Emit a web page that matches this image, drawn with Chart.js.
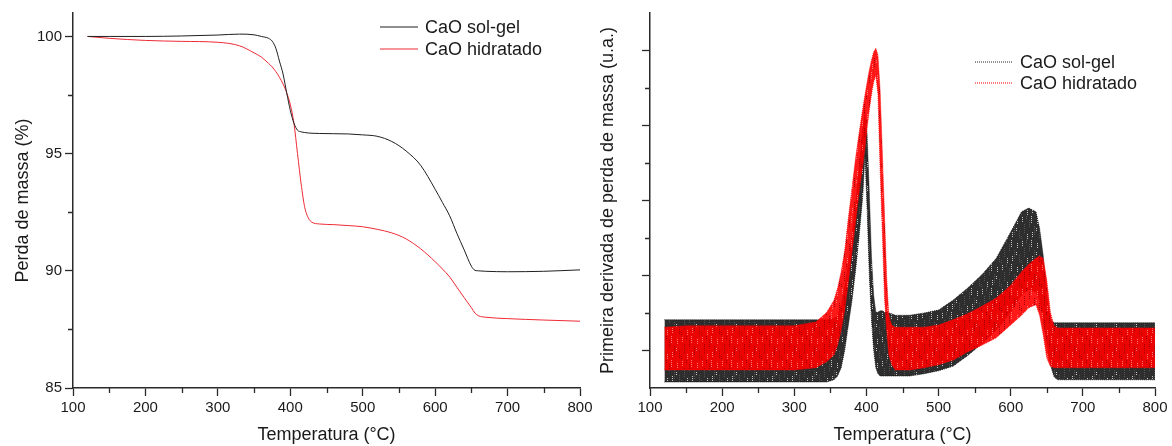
<!DOCTYPE html>
<html>
<head>
<meta charset="utf-8">
<script src="https://cdn.jsdelivr.net/npm/chart.js@4.4.1/dist/chart.umd.min.js"></script>
<style>
  body { margin: 0; background: #fff; }
  #wrap { position: relative; width: 1172px; height: 446px; }
  canvas { position: absolute; top: 0; }
  #tga { left: 0; }
  #dtg { left: 590px; }
</style>
</head>
<body>
<div id="wrap">
  <canvas id="tga" width="600" height="446"></canvas>
  <canvas id="dtg" width="582" height="446"></canvas>
</div>
<script>
// ---- data ----
const seriesNames = ['CaO sol-gel', 'CaO hidratado'];
const xTicks = [100, 200, 300, 400, 500, 600, 700, 800];
const xMinor = [150, 250, 350, 450, 550, 650, 750];
const tgaYTicks = [85, 90, 95, 100];
const tgaYMinor = [87.5, 92.5, 97.5];
const dtgYTicks = [5, 15, 25, 35, 45];
const dtgYMinor = [10, 20, 30, 40];

// TGA: mass (%) vs temperature
const tgaTemp = [120, 150, 200, 250, 300, 330, 350, 360, 370, 375, 380, 385, 390, 395, 400, 405, 410, 415, 420, 425, 430, 440, 460, 480, 500, 520, 540, 560, 580, 600, 610, 620, 630, 640, 650, 655, 660, 670, 700, 750, 800];
const tgaSolGel = [100.0, 100.0, 100.0, 100.02, 100.06, 100.1, 100.07, 100.0, 99.92, 99.8, 99.5, 98.95, 98.4, 97.6, 96.85, 96.3, 96.0, 95.93, 95.9, 95.88, 95.87, 95.86, 95.85, 95.84, 95.8, 95.74, 95.52, 95.11, 94.5, 93.48, 92.92, 92.35, 91.6, 90.9, 90.2, 90.02, 90.0, 89.98, 89.96, 89.98, 90.04];
const tgaHidratado = [100.0, 99.92, 99.83, 99.79, 99.75, 99.6, 99.3, 99.12, 98.85, 98.7, 98.5, 98.26, 97.97, 97.6, 97.1, 96.3, 95.0, 93.7, 92.7, 92.25, 92.07, 92.0, 91.97, 91.93, 91.88, 91.77, 91.62, 91.36, 90.94, 90.39, 90.08, 89.74, 89.3, 88.86, 88.43, 88.2, 88.08, 88.02, 87.96, 87.9, 87.85];

// DTG: noisy band, upper and lower edge of each trace (u.a.)
const dtgTemp = [120, 150, 200, 250, 300, 330, 345, 355, 360, 365, 370, 375, 380, 385, 390, 395, 398, 401, 404, 407, 410, 413, 416, 419, 422, 425, 428, 431, 435, 440, 460, 480, 500, 520, 540, 560, 580, 600, 615, 625, 635, 640, 645, 650, 655, 660, 665, 680, 700, 750, 800];
const dtgSolGelHigh = [9.1, 9.1, 9.1, 9.1, 9.1, 9.1, 9.1, 9.3, 9.7, 11.1, 13.7, 16.8, 20.4, 24.7, 29.3, 34.7, 36.9, 33.7, 26.0, 17.5, 12.4, 10.1, 10.1, 10.3, 10.3, 10.1, 10.1, 10.0, 9.9, 9.7, 9.7, 10.0, 10.4, 11.7, 13.3, 15.1, 17.3, 20.8, 23.5, 24.0, 23.5, 21.3, 17.7, 12.4, 9.1, 8.7, 8.7, 8.7, 8.7, 8.7, 8.7];
const dtgSolGelLow = [0.8, 0.8, 0.8, 0.8, 0.8, 0.8, 0.8, 1.1, 1.6, 2.7, 5.1, 8.4, 11.7, 15.7, 20.4, 25.7, 31.1, 23.7, 15.1, 9.1, 5.1, 2.7, 1.9, 1.6, 1.6, 1.6, 1.6, 1.6, 1.6, 1.6, 1.6, 1.9, 2.3, 2.9, 4.3, 5.9, 7.7, 10.1, 12.4, 13.1, 12.8, 11.7, 9.1, 5.7, 3.1, 1.5, 1.1, 1.1, 1.1, 1.1, 1.1];
const dtgHidrHigh = [8.1, 8.3, 8.3, 8.3, 8.3, 8.8, 10.1, 11.7, 13.3, 15.5, 18.4, 22.7, 26.7, 30.7, 34.1, 37.3, 39.1, 40.8, 42.4, 43.7, 44.8, 45.3, 44.4, 39.7, 31.7, 23.3, 14.9, 9.7, 8.4, 8.1, 8.1, 8.1, 8.4, 9.1, 9.9, 10.9, 12.0, 13.7, 15.5, 16.5, 17.3, 17.6, 17.3, 14.4, 10.1, 8.3, 8.0, 8.0, 8.0, 8.0, 8.0];
const dtgHidrLow = [2.4, 2.4, 2.4, 2.4, 2.4, 2.7, 3.5, 4.4, 5.7, 7.7, 10.4, 14.1, 18.1, 22.1, 26.1, 29.7, 32.0, 34.7, 37.1, 39.1, 40.8, 41.7, 39.1, 29.1, 20.8, 12.1, 7.7, 4.4, 3.1, 2.4, 2.4, 2.7, 3.1, 3.7, 4.8, 5.7, 6.7, 8.4, 9.7, 10.7, 11.1, 9.7, 7.1, 4.0, 2.9, 2.7, 2.7, 2.7, 2.7, 2.7, 2.7];

// ---- styling ----
Chart.defaults.font.family = "'Liberation Sans', Arial, sans-serif";
Chart.defaults.color = '#1a1a1a';
const axisColor = '#2a2a2a';
const titleFont = { size: 18 };
const tickFont = { size: 15 };

const pts = (xs, ys) => xs.map((x, i) => ({ x: x, y: ys[i] }));

// vertical dotted streaks, to look like the noisy recorder trace
const streakMarks = [[1, 0, 7], [4, 10, 9], [7, 3, 6], [9, 15, 8], [12, 1, 5], [14, 8, 10], [17, 18, 6], [19, 4, 7], [2, 16, 6], [11, 20, 4], [6, 12, 3], [16, 0, 4]];
function streaks(base, dark, light) {
  const c = document.createElement('canvas');
  c.width = 20; c.height = 24;
  const g = c.getContext('2d');
  g.fillStyle = base; g.fillRect(0, 0, 20, 24);
  streakMarks.forEach(([x, y, h], i) => {
    g.fillStyle = i % 2 ? dark : light;
    for (let k = 0; k < h; k += 2) g.fillRect(x, (y + k) % 24, 1, 1);
  });
  return g.createPattern(c, 'repeat');
}

// short minor ticks on both axes
function minorTicks(xv, yv) {
  return {
    id: 'minorTicks',
    afterDraw(chart) {
      const ctx = chart.ctx, xs = chart.scales.x, ys = chart.scales.y;
      ctx.save();
      ctx.strokeStyle = axisColor;
      ctx.lineWidth = 1.3;
      ctx.beginPath();
      xv.forEach(v => { const p = Math.round(xs.getPixelForValue(v)) + 0.5; ctx.moveTo(p, xs.top); ctx.lineTo(p, xs.top + 5); });
      yv.forEach(v => { const p = Math.round(ys.getPixelForValue(v)) + 0.5; ctx.moveTo(ys.right, p); ctx.lineTo(ys.right - 5, p); });
      ctx.stroke();
      ctx.restore();
    }
  };
}

// legend drawn inside the plot
function innerLegend(x, y, gap, items) {
  return {
    id: 'innerLegend',
    afterDraw(chart) {
      const ctx = chart.ctx;
      ctx.save();
      ctx.font = "18px 'Liberation Sans', Arial, sans-serif";
      ctx.textBaseline = 'middle';
      items.forEach((it, i) => {
        const yy = y + i * gap;
        ctx.strokeStyle = it.color;
        ctx.lineWidth = it.width;
        ctx.setLineDash(it.dash);
        ctx.beginPath(); ctx.moveTo(x, yy); ctx.lineTo(x + 38, yy); ctx.stroke();
        ctx.setLineDash([]);
        ctx.fillStyle = '#1a1a1a';
        ctx.fillText(it.text, x + 45, yy + 1);
      });
      ctx.restore();
    }
  };
}

function xAxis() {
  return {
    type: 'linear', min: 100, max: 800,
    afterBuildTicks: s => { s.ticks = xTicks.map(v => ({ value: v })); },
    afterFit: s => { s.height = 58; s.paddingLeft = 0; s.paddingRight = 0; },
    border: { display: true, color: axisColor, width: 1.5 },
    grid: { drawOnChartArea: false, drawTicks: true, tickLength: 8, tickColor: axisColor, tickWidth: 1.3 },
    ticks: { font: tickFont, padding: 3, maxRotation: 0 },
    title: { display: true, text: 'Temperatura (°C)', font: titleFont, padding: { top: 0, bottom: 0 } }
  };
}

// ---- left: TGA ----
new Chart(document.getElementById('tga'), {
  type: 'line',
  data: {
    datasets: [
      { label: seriesNames[0], data: pts(tgaTemp, tgaSolGel), borderColor: '#1f1f1f', borderWidth: 1, pointRadius: 0, cubicInterpolationMode: 'monotone' },
      { label: seriesNames[1], data: pts(tgaTemp, tgaHidratado), borderColor: '#ee2a35', borderWidth: 1, pointRadius: 0, cubicInterpolationMode: 'monotone' }
    ]
  },
  options: {
    responsive: false,
    animation: false,
    layout: { padding: { top: 13, right: 20, left: 0, bottom: 0 } },
    plugins: { legend: { display: false }, tooltip: { enabled: false } },
    scales: {
      x: xAxis(),
      y: {
        type: 'linear', min: 85, max: 101,
        afterBuildTicks: s => { s.ticks = tgaYTicks.map(v => ({ value: v })); },
        afterFit: s => { s.width = 73; s.paddingTop = 0; s.paddingBottom = 0; },
        border: { display: true, color: axisColor, width: 1.5 },
        grid: { drawOnChartArea: false, drawTicks: true, tickLength: 8, tickColor: axisColor, tickWidth: 1.3 },
        ticks: { font: tickFont, padding: 3 },
        title: { display: true, text: 'Perda de massa (%)', font: titleFont, padding: { top: 12, bottom: 0 } }
      }
    }
  },
  plugins: [
    minorTicks(xMinor, tgaYMinor),
    innerLegend(380, 27, 22, [
      { text: seriesNames[0], color: '#1f1f1f', width: 1, dash: [] },
      { text: seriesNames[1], color: '#ee2a35', width: 1, dash: [] }
    ])
  ]
});

// ---- right: DTG ----
const redFill = streaks('rgba(255,0,0,0.9)', 'rgba(150,0,0,0.9)', 'rgba(255,130,130,0.9)');
const blackFill = streaks('rgba(0,0,0,0.82)', 'rgba(90,90,90,0.9)', 'rgba(215,215,215,0.9)');

new Chart(document.getElementById('dtg'), {
  type: 'line',
  data: {
    datasets: [
      { label: seriesNames[1], data: pts(dtgTemp, dtgHidrHigh), borderColor: 'rgba(255,0,0,0.8)', borderWidth: 1, borderDash: [1, 1], pointRadius: 0, fill: false },
      { label: seriesNames[1], data: pts(dtgTemp, dtgHidrLow), borderColor: 'rgba(255,0,0,0.8)', borderWidth: 1, borderDash: [1, 1], pointRadius: 0, fill: '-1', backgroundColor: redFill },
      { label: seriesNames[0], data: pts(dtgTemp, dtgSolGelHigh), borderColor: 'rgba(0,0,0,0.8)', borderWidth: 1, borderDash: [1, 1], pointRadius: 0, fill: false },
      { label: seriesNames[0], data: pts(dtgTemp, dtgSolGelLow), borderColor: 'rgba(0,0,0,0.8)', borderWidth: 1, borderDash: [1, 1], pointRadius: 0, fill: '-1', backgroundColor: blackFill }
    ]
  },
  options: {
    responsive: false,
    animation: false,
    layout: { padding: { top: 13, right: 17, left: 0, bottom: 0 } },
    plugins: { legend: { display: false }, tooltip: { enabled: false }, filler: { propagate: false } },
    scales: {
      x: xAxis(),
      y: {
        type: 'linear', min: 0, max: 50,
        afterBuildTicks: s => { s.ticks = dtgYTicks.map(v => ({ value: v })); },
        afterFit: s => { s.width = 60; s.paddingTop = 0; s.paddingBottom = 0; },
        border: { display: true, color: axisColor, width: 1.5 },
        grid: { drawOnChartArea: false, drawTicks: true, tickLength: 8, tickColor: axisColor, tickWidth: 1.3 },
        ticks: { display: false },
        title: { display: true, text: 'Primeira derivada de perda de massa (u.a.)', font: titleFont, padding: { top: 7, bottom: 0 } }
      }
    }
  },
  plugins: [
    minorTicks(xMinor, dtgYMinor),
    innerLegend(385, 62, 21, [
      { text: seriesNames[0], color: '#222', width: 1, dash: [1, 1] },
      { text: seriesNames[1], color: '#ff0000', width: 1, dash: [1, 1] }
    ])
  ]
});
</script>
</body>
</html>
